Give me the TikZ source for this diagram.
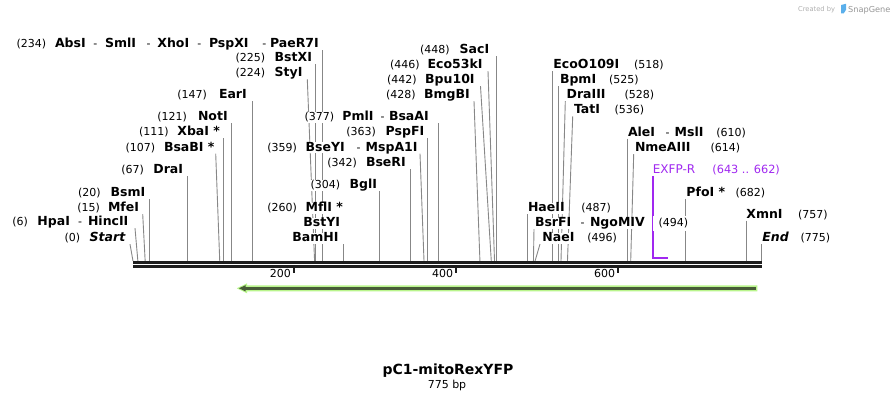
\documentclass[tikz,border=0pt]{standalone}
\usepackage{fontspec}
\setmainfont{DejaVu Sans}
\usetikzlibrary{backgrounds}
\definecolor{leadgray}{RGB}{135,135,135}
\definecolor{mapdark}{RGB}{30,30,30}
\definecolor{primerpurple}{RGB}{160,40,240}
\definecolor{featgreen}{RGB}{185,245,140}
\definecolor{featdark}{RGB}{72,92,56}
\definecolor{sgblue}{RGB}{90,175,235}
\definecolor{sggray}{RGB}{175,175,175}
\begin{document}
\begin{tikzpicture}[x=1pt,y=-1pt,
  num/.style={font=\fontsize{11}{13}\selectfont, anchor=base west, inner xsep=0.5pt, inner ysep=0.4pt, text height=8.5pt, text depth=2pt, fill=white},
  enz/.style={num, font=\fontsize{12.5}{14}\selectfont\bfseries},
  enzi/.style={num, font=\fontsize{12.5}{14}\selectfont\bfseries\itshape},
  leader/.style={draw=leadgray, line width=0.9pt},
  primer/.style={draw=primerpurple, line width=1.8pt},
  tick/.style={draw=mapdark, line width=2pt},
  maplineA/.style={draw=mapdark, line width=3pt},
  maplineB/.style={draw=mapdark, line width=2.4pt}]
\useasboundingbox (0,0) rectangle (895,400);

% ---- site coordinates on the map line ----
\foreach \bp in {0,6,15,20,67,107,111,121,147,224,225,234,260,304,342,359,363,377,428,442,446,448,487,494,496,518,525,528,536,610,614,682,757,775}
  {\coordinate (s\bp) at ({133+0.8106*\bp},261);}
\coordinate (p662) at (668,257.7);

% ---- map lines ----
\coordinate (mapLa) at (133,262.5);  \coordinate (mapRa) at (761.8,262.5);
\coordinate (mapLb) at (133,266.5);  \coordinate (mapRb) at (761.8,266.5);
\draw[maplineA] (mapLa) -- (mapRa);
\draw[maplineB] (mapLb) -- (mapRb);

% ---- ticks ----
\foreach \t in {200,400,600}{
  \coordinate (tk\t) at ({133+0.8106*\t-1},266.5);
  \draw[tick] (tk\t) -- ++(0,6.5);
  \node[num, fill=none, anchor=base east] (tl\t) at ({133+0.8106*\t-3.5},277.5) {\t};
}

% ---- feature arrow ----
\fill[featgreen] (757.3,285.3) -- (247,285.3) -- (247,283.3) -- (236.8,288.3) -- (247,293.3) -- (247,291.3) -- (757.3,291.3) -- cycle;
\draw[featdark, line width=2.4pt] (755.7,288.3) -- (244,288.3);
\fill[featdark] (239,288.3) -- (245.5,285.2) -- (245.5,291.4) -- cycle;

% ---- left labels ----
\node[num] (n0) at (64,241.5) {(0)};
\node[enzi] (e0) at (89,241.5) {Start};
\node[num] (n6) at (11.7,225.5) {(6)};
\node[enz] (e6a) at (36.7,225.5) {HpaI};
\node[num] (d6) at (77.3,225.5) {-};
\node[enz] (e6b) at (87.3,225.5) {HincII};
\node[num] (n15) at (76.7,211.5) {(15)};
\node[enz] (e15) at (107.3,211.5) {MfeI};
\node[num] (n20) at (77.3,196.5) {(20)};
\node[enz] (e20) at (110,196.5) {BsmI};
\node[num] (n67) at (120.7,173.5) {(67)};
\node[enz] (e67) at (152.7,173.5) {DraI};
\node[num] (n107) at (125,151) {(107)};
\node[enz] (e107) at (163.3,151) {BsaBI *};
\node[num] (n111) at (138.3,135.5) {(111)};
\node[enz] (e111) at (176.7,135.5) {XbaI *};
\node[num] (n121) at (156.7,120.5) {(121)};
\node[enz] (e121) at (197.3,120.5) {NotI};
\node[num] (n147) at (176.7,98.5) {(147)};
\node[enz] (e147) at (218.3,98.5) {EarI};
\node[num] (n224) at (235,76.8) {(224)};
\node[enz] (e224) at (274,76.8) {StyI};
\node[num] (n225) at (235,61.2) {(225)};
\node[enz] (e225) at (274,61.2) {BstXI};
\node[num] (n234) at (16,47.5) {(234)};
\node[enz] (e234a) at (54.3,47.5) {AbsI};
\node[num] (d234a) at (92.7,47.5) {-};
\node[enz] (e234b) at (104.3,47.5) {SmlI};
\node[num] (d234b) at (146,47.5) {-};
\node[enz] (e234c) at (156.7,47.5) {XhoI};
\node[num] (d234c) at (196.7,47.5) {-};
\node[enz] (e234d) at (208.3,47.5) {PspXI};
\node[num] (d234d) at (261.7,47.5) {-};
\node[enz] (e234e) at (269.3,47.5) {PaeR7I};

% ---- middle labels ----
\node[num] (n260) at (266.7,211.5) {(260)};
\node[enz] (e260a) at (305,211.5) {MflI *};
\node[enz] (e260b) at (302.7,226.5) {BstYI};
\node[enz] (e260c) at (291.7,241.5) {BamHI};
\node[num] (n304) at (310,188.8) {(304)};
\node[enz] (e304) at (349,188.8) {BglI};
\node[num] (n342) at (326.7,166.5) {(342)};
\node[enz] (e342) at (365.3,166.5) {BseRI};
\node[num] (n359) at (266.7,151) {(359)};
\node[enz] (e359a) at (305,151) {BseYI};
\node[num] (d359) at (356,151) {-};
\node[enz] (e359b) at (365,151) {MspA1I};
\node[num] (n363) at (345.7,135.5) {(363)};
\node[enz] (e363) at (385,135.5) {PspFI};
\node[num] (n377) at (304,120.5) {(377)};
\node[enz] (e377a) at (341.7,120.5) {PmlI};
\node[num] (d377) at (380,120.5) {-};
\node[enz] (e377b) at (388.3,120.5) {BsaAI};
\node[num] (n428) at (385.5,98.5) {(428)};
\node[enz] (e428) at (423.3,98.5) {BmgBI};
\node[num] (n442) at (386.5,83.5) {(442)};
\node[enz] (e442) at (424.5,83.5) {Bpu10I};
\node[num] (n446) at (389.5,68.5) {(446)};
\node[enz] (e446) at (427,68.5) {Eco53kI};
\node[num] (n448) at (419.5,53.5) {(448)};
\node[enz] (e448) at (459,53.5) {SacI};

% ---- right labels ----
\node[enz] (e487) at (527.3,211.5) {HaeII};
\node[num] (n487) at (580.7,211.5) {(487)};
\node[enz] (e494a) at (534.3,226.5) {BsrFI};
\node[num] (d494) at (580,226.5) {-};
\node[enz] (e494b) at (589.3,226.5) {NgoMIV};
\node[num, inner xsep=6pt, inner ysep=2pt] (n494) at (652.3,226.5) {(494)};
\node[enz] (e496) at (541.7,241.5) {NaeI};
\node[num] (n496) at (586.7,241.5) {(496)};
\node[enz] (e518) at (552.7,68.5) {EcoO109I};
\node[num] (n518) at (633.3,68.5) {(518)};
\node[enz] (e525) at (559.3,83.5) {BpmI};
\node[num] (n525) at (608.3,83.5) {(525)};
\node[enz] (e528) at (566,98.5) {DraIII};
\node[num] (n528) at (624,98.5) {(528)};
\node[enz] (e536) at (573.3,113.8) {TatI};
\node[num] (n536) at (614,113.8) {(536)};
\node[enz] (e610a) at (627.3,136) {AleI};
\node[num] (d610) at (665,136) {-};
\node[enz] (e610b) at (674,136) {MslI};
\node[num] (n610) at (715.7,136) {(610)};
\node[enz] (e614) at (634.3,151.5) {NmeAIII};
\node[num] (n614) at (710,151.5) {(614)};
\node[num, text=primerpurple, font=\fontsize{12}{14}\selectfont] (exfp) at (652.2,173.5) {EXFP-R};
\node[num, text=primerpurple, font=\fontsize{11.3}{13}\selectfont] (nexfp) at (711.7,173.5) {(643 .. 662)};
\node[enz] (e682) at (685.7,196.5) {PfoI *};
\node[num] (n682) at (735,196.5) {(682)};
\node[enz] (e757) at (745.7,218) {XmnI};
\node[num] (n757) at (797.3,218) {(757)};
\node[enzi] (e775) at (761.7,241.5) {End};
\node[num] (n775) at (800,241.5) {(775)};

% ---- title ----
\node[font=\fontsize{14}{16}\selectfont\bfseries, anchor=base, inner sep=0] (title) at (448,374) {pC1-mitoRexYFP};
\node[font=\fontsize{11}{13}\selectfont, anchor=base, inner sep=0] (len) at (447,388.5) {775 bp};

% ---- watermark ----
\node[font=\fontsize{6.7}{8}\selectfont, text=sggray, anchor=base west, inner sep=0] (cb) at (798,11.5) {Created by};
\fill[sgblue] (841,5) -- (846,3.8) -- (846,9.8) -- (843.8,13.3) -- (841,13.3) -- cycle;
\node[font=\fontsize{8.2}{10}\selectfont, text=sggray!85!black, anchor=base west, inner sep=0] (sg) at (848,12) {SnapGene};

% ---- leaders (behind labels) ----
\begin{scope}[on background layer]
\draw[leader] (e0.south -| 130,0) -- (s0);
\draw[leader] (e6b.south -| 135,0) -- (s6);
\draw[leader] (e15.south -| 142.7,0) -- (s15);
\draw[leader] (e20.south -| s20) -- (s20);
\draw[leader] (e67.south -| s67) -- (s67);
\draw[leader] (e107.south -| 215.7,0) -- (s107);
\draw[leader] (e111.south -| s111) -- (s111);
\draw[leader] (e121.south -| s121) -- (s121);
\draw[leader] (e147.south -| s147) -- (s147);
\draw[leader] (e224.south -| 307.3,0) -- (s224);
\draw[leader] (e225.south -| s225) -- (s225);
\draw[leader] (e234e.south -| s234) -- (s234);
\draw[leader] (e260c.south -| s260) -- (s260);
\draw[leader] (e304.south -| s304) -- (s304);
\draw[leader] (e342.south -| s342) -- (s342);
\draw[leader] (e359b.south -| 420,0) -- (s359);
\draw[leader] (e363.south -| s363) -- (s363);
\draw[leader] (e377b.south -| s377) -- (s377);
\draw[leader] (e428.south -| 474,0) -- (s428);
\draw[leader] (e442.south -| 480.5,0) -- (s442);
\draw[leader] (e446.south -| 488,0) -- (s446);
\draw[leader] (e448.south -| s448) -- (s448);
\draw[leader] (e487.south -| s487) -- (s487);
\draw[leader] (e494a.south -| 534,0) -- (s494);
\draw[leader] (e496.south -| 540,0) -- (s496);
\draw[leader] (e518.south -| s518) -- (s518);
\draw[leader] (e525.south -| s525) -- (s525);
\draw[leader] (e528.south -| 565.3,0) -- (s528);
\draw[leader] (e536.south -| 572.7,0) -- (s536);
\draw[leader] (e610a.south -| s610) -- (s610);
\draw[leader] (e614.south -| 633.7,0) -- (s614);
\draw[leader] (e682.south -| s682) -- (s682);
\draw[leader] (e757.south -| s757) -- (s757);
\draw[leader] (e775.south -| s775) -- (s775);
\draw[primer] (exfp.south -| 652.7,0) |- (p662);
\end{scope}
\end{tikzpicture}
\end{document}
